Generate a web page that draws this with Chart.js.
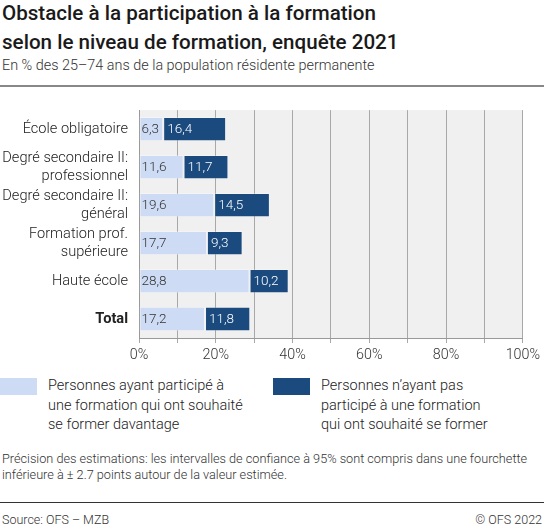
<!DOCTYPE html>
<html lang="fr">
<head>
<meta charset="utf-8">
<title>Obstacle à la participation à la formation</title>
<script src="https://cdn.jsdelivr.net/npm/chart.js@4/dist/chart.umd.min.js"></script>
<style>
  html, body { margin: 0; padding: 0; background: #fff; }
  body { width: 544px; height: 528px; position: relative; overflow: hidden;
         font-family: Roboto, "Noto Sans", sans-serif; font-weight: 300; color: #222; }
  .title { position: absolute; left: 2px; top: -1px; font-size: 20.6px; font-weight: 500;
           line-height: 29px; color: #1a1a1a; }
  .subtitle { position: absolute; left: 2px; top: 57px; font-size: 14.4px; color: #333; }
  .rule-top { position: absolute; left: 0; top: 85px; width: 544px; height: 2px; background: #888; }
  #wrap { position: absolute; left: 0; top: 90px; width: 544px; height: 280px; }
  .legend-item { position: absolute; top: 378px; }
  .swatch { position: absolute; left: 0; top: 0; width: 37px; height: 17px; }
  .legend-text { position: absolute; left: 48px; top: -2px; font-size: 14.5px; line-height: 19.5px;
                 color: #222; white-space: nowrap; }
  .note { position: absolute; left: 2px; top: 451px; font-size: 12.7px; line-height: 16px; color: #333; }
  .rule-bottom { position: absolute; left: 0; top: 502px; width: 544px; height: 1px; background: #333; }
  .source { position: absolute; left: 2px; top: 512px; font-size: 12.5px; color: #333; }
  .copy { position: absolute; right: 2px; top: 512px; font-size: 12.5px; color: #333; }
</style>
</head>
<body>
<div class="title">Obstacle à la participation à la formation<br>selon le niveau de formation, enquête 2021</div>
<div class="subtitle">En % des 25–74 ans de la population résidente permanente</div>
<div class="rule-top"></div>
<div id="wrap"><canvas id="chart"></canvas></div>

<div class="legend-item" style="left:0px">
  <div class="swatch" style="background:#cddcf4"></div>
  <div class="legend-text">Personnes ayant participé à<br>une formation qui ont souhaité<br>se former davantage</div>
</div>
<div class="legend-item" style="left:273px">
  <div class="swatch" style="background:#1a4a7e"></div>
  <div class="legend-text">Personnes n’ayant pas<br>participé à une formation<br>qui ont souhaité se former</div>
</div>

<div class="note">Précision des estimations: les intervalles de confiance à 95% sont compris dans une fourchette<br>inférieure à ± 2.7 points autour de la valeur estimée.</div>
<div class="rule-bottom"></div>
<div class="source">Source: OFS – MZB</div>
<div class="copy">© OFS 2022</div>

<script>
var categories = [
  "École obligatoire",
  ["Degré secondaire II:", "professionnel"],
  ["Degré secondaire II:", "général"],
  ["Formation prof.", "supérieure"],
  "Haute école",
  "Total"
];
var participated = [6.3, 11.6, 19.6, 17.7, 28.8, 17.2];
var notParticipated = [16.4, 11.7, 14.5, 9.3, 10.2, 11.8];
var seriesNames = [
  "Personnes ayant participé à une formation qui ont souhaité se former davantage",
  "Personnes n’ayant pas participé à une formation qui ont souhaité se former"
];

var fontFamily = "Roboto, 'Noto Sans', sans-serif";

var plotBackground = {
  id: "plotBackground",
  beforeDraw: function(chart) {
    var a = chart.chartArea, ctx = chart.ctx;
    ctx.save();
    ctx.fillStyle = "#f0f0f0";
    ctx.fillRect(a.left, a.top, a.right - a.left, a.bottom - a.top);
    ctx.restore();
  }
};

var barLabels = {
  id: "barLabels",
  afterDatasetsDraw: function(chart) {
    var ctx = chart.ctx;
    ctx.save();
    ctx.font = "300 13.5px " + fontFamily;
    ctx.textBaseline = "middle";
    ctx.textAlign = "left";
    chart.data.datasets.forEach(function(ds, di) {
      var meta = chart.getDatasetMeta(di);
      meta.data.forEach(function(bar, i) {
        var p = bar.getProps(["x", "y", "base"], true);
        ctx.fillStyle = di === 0 ? "#333" : "#fff";
        var txt = ds.data[i].toFixed(1).replace(".", ",");
        ctx.fillText(txt, Math.min(p.x, p.base) + (di === 0 ? 2 : 4), p.y + 1);
      });
    });
    ctx.restore();
  }
};

var chart = new Chart(document.getElementById("chart"), {
  type: "bar",
  data: {
    labels: categories,
    datasets: [
      {
        label: seriesNames[0],
        data: participated,
        backgroundColor: "#cddcf4",
        borderColor: "rgba(255,255,255,0.25)",
        borderWidth: 1,
        borderSkipped: false
      },
      {
        label: seriesNames[1],
        data: notParticipated,
        backgroundColor: "#1a4a7e",
        borderColor: "rgba(255,255,255,0.25)",
        borderWidth: 1,
        borderSkipped: false
      }
    ]
  },
  options: {
    indexAxis: "y",
    responsive: true,
    maintainAspectRatio: false,
    animation: false,
    layout: { padding: { top: 11, right: 19, bottom: 0, left: 0 } },
    datasets: { bar: { categoryPercentage: 1, barPercentage: 0.64 } },
    plugins: {
      legend: { display: false },
      tooltip: { enabled: false }
    },
    scales: {
      x: {
        stacked: true,
        min: 0,
        max: 100,
        afterFit: function(scale) { scale.height = 32; },
        border: { display: true, color: "#999", width: 1 },
        grid: { color: "#a8a8a8", lineWidth: 1, tickLength: 5, drawTicks: true },
        ticks: {
          stepSize: 10,
          autoSkip: false,
          maxRotation: 0,
          padding: 4,
          color: "#333",
          font: { family: fontFamily, size: 14.3, weight: 300 },
          callback: function(v) { return v % 20 === 0 ? v + "%" : ""; }
        }
      },
      y: {
        stacked: true,
        afterFit: function(scale) { scale.width = 139; },
        border: { display: true, color: "#999", width: 1 },
        grid: { display: false, drawTicks: false },
        ticks: {
          autoSkip: false,
          padding: 11,
          color: "#222",
          font: function(ctx) {
            return {
              family: fontFamily,
              size: 14.6,
              lineHeight: 1.25,
              weight: ctx.index === 5 ? "bold" : 300
            };
          }
        }
      }
    }
  },
  plugins: [plotBackground, barLabels]
});
</script>
</body>
</html>
